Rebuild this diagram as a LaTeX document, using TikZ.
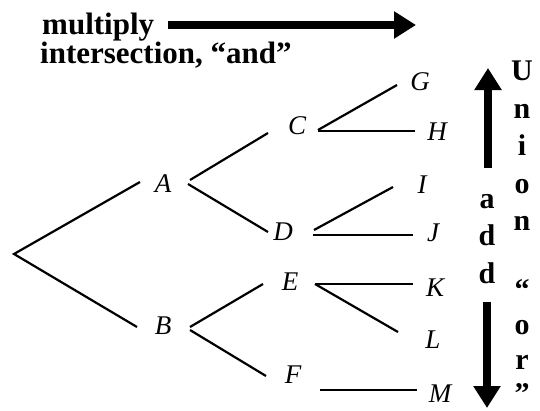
\documentclass[tikz,border=0pt]{standalone}
\usepackage{fontspec}
\setmainfont{Liberation Serif}
\usetikzlibrary{arrows.meta}
\begin{document}
\begin{tikzpicture}[x=1pt,y=-1pt,
  lbl/.style={font=\fontsize{27}{27}\selectfont\itshape, inner sep=0pt},
  big/.style={font=\fontsize{31}{31}\selectfont\bfseries, inner sep=0pt, anchor=base west},
  col/.style={font=\fontsize{30}{30}\selectfont\bfseries, inner sep=0pt, anchor=base},
  br/.style={line width=2.2pt},
  fat/.style={line width=8pt, -{Triangle[width=26pt,length=22pt]}}]
\useasboundingbox (0,0) rectangle (540,410);

% top texts and arrow
\node[big] (mult) at (42,34) {multiply};
\node[big] (inter) at (40,63) {intersection, “and”};
\coordinate (mS) at (168,25);
\coordinate (mE) at (416,25);
\draw[fat] (mS) -- (mE);

% labels
\node[lbl] (A) at (163,184) {A};
\node[lbl] (B) at (163,326) {B};
\node[lbl] (C) at (297,126) {C};
\node[lbl] (D) at (283,232) {D};
\node[lbl] (E) at (290,282) {E};
\node[lbl] (F) at (293,375) {F};
\node[lbl] (G) at (420,82) {G};
\node[lbl] (H) at (437,132) {H};
\node[lbl] (I) at (422,185) {I};
\node[lbl] (J) at (433,233) {J};
\node[lbl] (K) at (435,288) {K};
\node[lbl] (L) at (433,340) {L};
\node[lbl] (M) at (440,394) {M};

% branch end points
\coordinate (root) at (14,254);
\coordinate (Ain) at (140,182);
\coordinate (Bin) at (137,327);
\coordinate (Aout1) at (190,180);
\coordinate (Aout2) at (188,184);
\coordinate (Cin) at (268,133);
\coordinate (Din) at (268,232);
\coordinate (Bout1) at (190,327);
\coordinate (Bout2) at (190,330);
\coordinate (Ein) at (263,284);
\coordinate (Fin) at (266,376);
\coordinate (Cout1) at (318,130);
\coordinate (Cout2) at (318,131);
\coordinate (Gin) at (397,85);
\coordinate (Hin) at (415,131);
\coordinate (Dout1) at (314,230);
\coordinate (Dout2) at (313,235);
\coordinate (Iin) at (393,187);
\coordinate (Jin) at (413,235);
\coordinate (Eout) at (315,284);
\coordinate (Kin) at (413,284);
\coordinate (Lin) at (398,332);
\coordinate (Fout) at (320,390);
\coordinate (Min) at (417,390);

\draw[br] (Ain) -- (root) -- (Bin);
\draw[br] (Cin) -- (Aout1);
\draw[br] (Aout2) -- (Din);
\draw[br] (Ein) -- (Bout1);
\draw[br] (Bout2) -- (Fin);
\draw[br] (Gin) -- (Cout1);
\draw[br] (Cout2) -- (Hin);
\draw[br] (Iin) -- (Dout1);
\draw[br] (Dout2) -- (Jin);
\draw[br] (Eout) -- (Kin);
\draw[br] (Eout) -- (Lin);
\draw[br] (Fout) -- (Min);

% vertical arrows
\coordinate (upS) at (488,168);
\coordinate (upE) at (488,68);
\draw[fat] (upS) -- (upE);
\coordinate (dnS) at (487,302);
\coordinate (dnE) at (487,408);
\draw[fat] (dnS) -- (dnE);

% add
\node[col] (a1) at (487,208) {a};
\node[col] (a2) at (487,245) {d};
\node[col] (a3) at (487,283) {d};

% Union "or"
\node[col] (u1) at (522,80) {U};
\node[col] (u2) at (522,118) {n};
\node[col] (u3) at (522,155) {i};
\node[col] (u4) at (522,193) {o};
\node[col] (u5) at (522,230) {n};
\node[col] (u6) at (522,299) {“};
\node[col] (u7) at (522,334) {o};
\node[col] (u8) at (522,369) {r};
\node[col] (u9) at (522,403) {”};
\end{tikzpicture}
\end{document}
